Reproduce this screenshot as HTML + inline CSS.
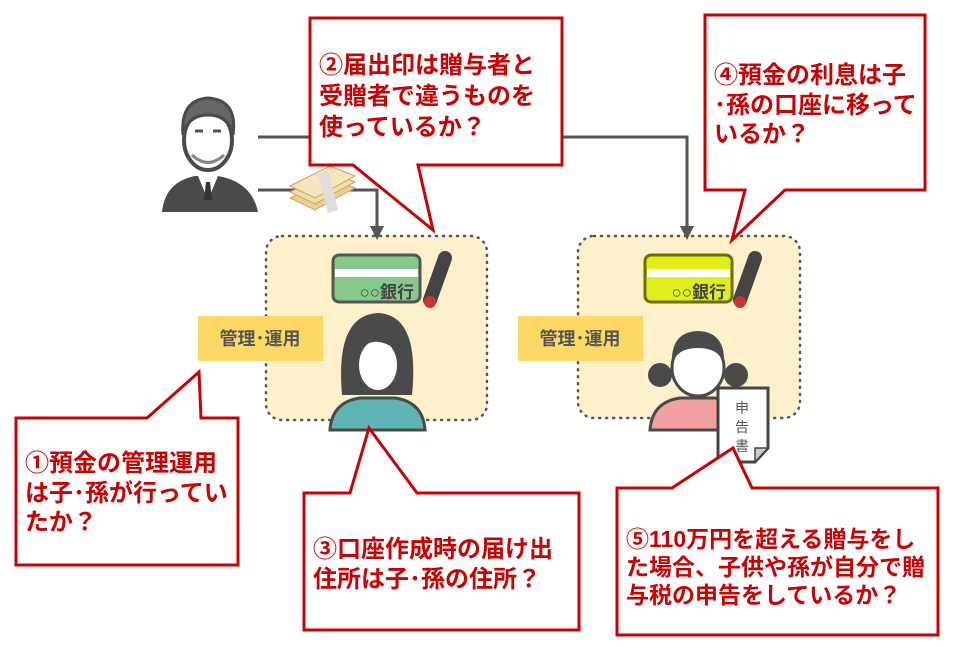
<!DOCTYPE html>
<html><head><meta charset="utf-8"><style>
html,body{margin:0;padding:0;background:#fff;}
svg{display:block;}
.t{font-family:"Liberation Sans","Noto Sans CJK JP",sans-serif;font-weight:bold;fill:#cc0000;font-size:24px;}
.t5{font-size:23px;}
.g{font-family:"Liberation Sans","Noto Sans CJK JP",sans-serif;font-weight:bold;fill:#555;font-size:18px;}
</style></head><body>
<svg width="957" height="647" viewBox="0 0 957 647" xmlns="http://www.w3.org/2000/svg">
<rect x="266" y="236" width="221" height="184" rx="16" fill="#fff0cc" stroke="#555" stroke-width="2.5" stroke-dasharray="1 6" stroke-linecap="round"/>
<rect x="578" y="236" width="222" height="182" rx="16" fill="#fff0cc" stroke="#555" stroke-width="2.5" stroke-dasharray="1 6" stroke-linecap="round"/>
<path d="M258,137 H687 V230" fill="none" stroke="#555" stroke-width="3"/>
<path d="M680,226 L694,226 L687,240 z" fill="#555"/>
<path d="M258,190 H377 V230" fill="none" stroke="#555" stroke-width="3"/>
<path d="M370,226 L384,226 L377,240 z" fill="#555"/>
<g>
<path d="M290,198 L330,178 L355,188 L315,210 z" fill="#e8cf96" stroke="#c9a55e"/>
<path d="M290,192 L330,172 L355,182 L315,204 z" fill="#f1dcaa" stroke="#c9a55e"/>
<path d="M290,186 L330,166 L355,176 L315,198 z" fill="#f6e6bd" stroke="#c9a55e"/>
<path d="M318,175 L328,170 L338,210 L328,213 z" fill="#ddd"/>
</g>
<g>
<path d="M162,212 Q165,182 195,176 L218,176 Q252,182 258,212 z" fill="#4a4a4a"/>
<path d="M198,176 L208,200 L218,176 z" fill="#fff"/>
<path d="M206,182 L210,182 L212,200 L204,200 z" fill="#333"/>
<ellipse cx="208" cy="140" rx="24" ry="30" fill="#fff" stroke="#4a4a4a" stroke-width="4"/>
<path d="M183,135 Q180,100 208,98 Q238,100 233,135 Q228,115 208,115 Q188,115 183,135 z" fill="#666" stroke="#4a4a4a" stroke-width="3"/>
<path d="M192,155 Q208,170 224,155" fill="none" stroke="#888" stroke-width="3"/>
<line x1="195" y1="131" x2="203" y2="131" stroke="#555" stroke-width="3"/>
<line x1="213" y1="131" x2="221" y2="131" stroke="#555" stroke-width="3"/>
</g>
<g>
<rect x="333" y="255" width="87" height="47" rx="6" fill="#86c98a" stroke="#555" stroke-width="3"/>
<rect x="335" y="269" width="83" height="8" fill="#fff"/>
<text x="414" y="298" text-anchor="end" class="g" style="font-size:17px;fill:#444">○○銀行</text>
<path d="M430,300 L445,258" stroke="#444" stroke-width="14" stroke-linecap="round"/>
<circle cx="430" cy="302" r="6" fill="#c33"/>
</g>
<g>
<rect x="645" y="255" width="87" height="47" rx="6" fill="#e0ee1a" stroke="#6a7000" stroke-width="3"/>
<rect x="647" y="269" width="83" height="8" fill="#fff"/>
<text x="726" y="298" text-anchor="end" class="g" style="font-size:17px;fill:#444">○○銀行</text>
<path d="M740,300 L755,258" stroke="#444" stroke-width="14" stroke-linecap="round"/>
<circle cx="740" cy="302" r="6" fill="#c33"/>
</g>
<rect x="198" y="316" width="125" height="45" fill="#fdd866"/>
<text x="260" y="345" text-anchor="middle" class="g">管理･運用</text>
<rect x="518" y="316" width="125" height="45" fill="#fdd866"/>
<text x="580" y="345" text-anchor="middle" class="g">管理･運用</text>
<g>
<path d="M342,395 Q335,315 378,313 Q420,315 412,395 z" fill="#4a4a4a"/>
<path d="M330,430 Q332,402 360,398 L395,398 Q423,402 425,430 z" fill="#5fb5b5" stroke="#4a4a4a" stroke-width="3"/>
<ellipse cx="378" cy="365" rx="20" ry="26" fill="#fff" stroke="#4a4a4a" stroke-width="2"/>
<path d="M358,355 Q370,330 400,352 Q395,325 378,325 Q356,328 358,355 z" fill="#4a4a4a"/>
</g>
<g>
<circle cx="660" cy="375" r="12" fill="#4a4a4a"/>
<circle cx="736" cy="375" r="12" fill="#4a4a4a"/>
<path d="M650,430 Q652,402 680,398 L715,398 Q743,402 745,430 z" fill="#f2a0a0" stroke="#4a4a4a" stroke-width="3"/>
<ellipse cx="698" cy="368" rx="26" ry="28" fill="#fff" stroke="#4a4a4a" stroke-width="3"/>
<path d="M672,365 Q670,332 698,331 Q726,332 724,365 Q720,348 698,348 Q676,348 672,365 z" fill="#4a4a4a"/>
</g>
<g>
<path d="M718,388 L768,388 L768,448 L755,462 L718,462 z" fill="#fff" stroke="#444" stroke-width="3"/>
<path d="M768,448 L755,448 L755,462 z" fill="#ccc" stroke="#444" stroke-width="1.5"/>
<text x="742" y="413" text-anchor="middle" style="font-family:'Noto Sans CJK JP',sans-serif;font-size:14px;fill:#555">申</text>
<text x="742" y="432" text-anchor="middle" style="font-family:'Noto Sans CJK JP',sans-serif;font-size:14px;fill:#555">告</text>
<text x="742" y="451" text-anchor="middle" style="font-family:'Noto Sans CJK JP',sans-serif;font-size:14px;fill:#555">書</text>
</g>
<g fill="#fff" stroke="#cc0000" stroke-width="3" stroke-linejoin="miter">
<path d="M310,18 H562 V165 H418 L433,230 L353,165 H310 z"/>
<path d="M705,15 H925 V190 H785 L732,240 L745,190 H705 z"/>
<path d="M16,418 H147 L199,372 L201,418 H238 V565 H16 z"/>
<path d="M304,493 H350 L369,428 L417,493 H579 V630 H304 z"/>
<path d="M617,488 H672 L733,448 L752,488 H938 V635 H617 z"/>
</g>
<g class="t">
<text x="319" y="73">②届出印は贈与者と</text>
<text x="319" y="104">受贈者で違うものを</text>
<text x="319" y="135">使っているか？</text>
<text x="714" y="83">④預金の利息は子</text>
<text x="714" y="113">･孫の口座に移って</text>
<text x="714" y="142">いるか？</text>
<text x="25" y="471">①預金の管理運用</text>
<text x="25" y="501">は子･孫が行ってい</text>
<text x="25" y="530">たか？</text>
<text x="313" y="557">③口座作成時の届け出</text>
<text x="313" y="587">住所は子･孫の住所？</text>
<text class="t5" x="626" y="547">⑤110万円を超える贈与をし</text>
<text class="t5" x="626" y="575">た場合、子供や孫が自分で贈</text>
<text class="t5" x="626" y="603">与税の申告をしているか？</text>
</g>
</svg>
</body></html>
